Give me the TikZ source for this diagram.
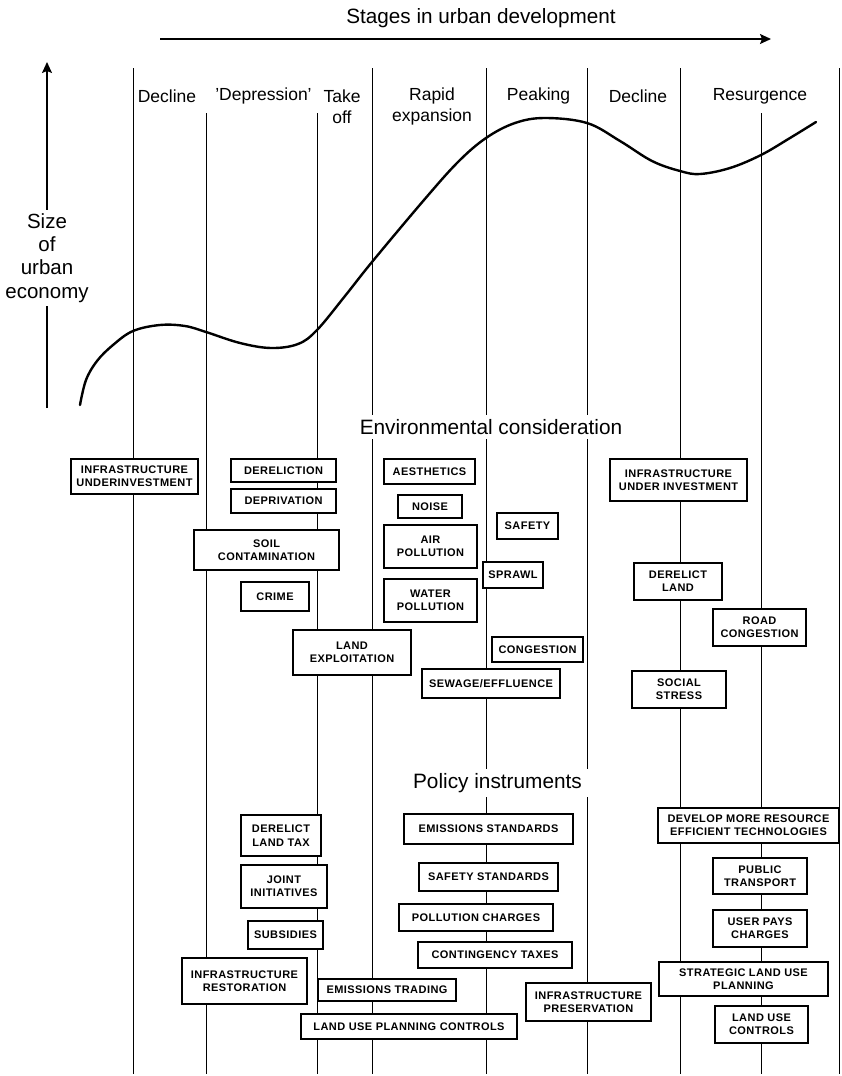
\documentclass[tikz,border=0pt]{standalone}
\usepackage{fontspec}
\setmainfont{Liberation Sans}
\newfontfamily\boxfont[LetterSpace=4]{Liberation Sans}
\usetikzlibrary{arrows.meta}
\begin{document}
\begin{tikzpicture}[x=1pt,y=-1pt,
  bx/.style={draw, fill=white, line width=1.1pt, align=center, inner sep=1pt,
    font=\boxfont\bfseries\fontsize{11}{13.3}\selectfont},
  stage/.style={font=\fontsize{17.5}{21}\selectfont, align=center, inner sep=0pt},
  head/.style={font=\fontsize{20.8}{24}\selectfont, fill=white, inner xsep=6pt, inner ysep=4pt},
  vline/.style={line width=0.8pt},
  ecurve/.style={line width=2.4pt, line cap=round, line join=round},
  axarrow/.style={line width=1.4pt, -{Stealth[length=11pt,width=10pt,inset=2pt]}}]
\useasboundingbox (0,0) rectangle (841,1076);
% title and arrow
\node[font=\fontsize{20.7}{24}\selectfont, inner sep=0pt] (title) at (481,18) {Stages in urban development};
\coordinate (ta) at (160,39);
\coordinate (tb) at (771,39);
\draw[axarrow] (ta) -- (tb);
% y axis
\coordinate (ya) at (47,408);
\coordinate (yb) at (47,62);
\draw[axarrow] (ya) -- (yb);
\node[font=\fontsize{20.5}{23.3}\selectfont, align=center, fill=white, inner xsep=0pt, inner ysep=3pt] (ylab) at (47,258) {Size\\of\\urban\\economy};
% vertical lines
\foreach \x in {133,372,486.5,587,680,839.5} \draw[vline] (\x,68) -- (\x,1074);
\foreach \x in {206.5,317,761} \draw[vline] (\x,113) -- (\x,1074);
% stage labels
\node[stage] (s1) at (167,96) {Decline};
\node[stage] (s2) at (263.5,96) {\char"27 Depression\char"27};
\node[stage] (s3) at (342,106.5) {Take\\off};
\node[stage] (s4) at (432,106.5) {Rapid\\expansion};
\node[stage] (s5) at (538.5,96) {Peaking};
\node[stage] (s6) at (638,96) {Decline};
\node[stage] (s7) at (760,96) {Resurgence};
% curve
\draw[ecurve] plot[smooth, tension=0.6] coordinates {
 (80,405) (86,380) (97,361) (113,345) (133,331) (160,325) (185,326) (206,332) (240,343)
 (271,348) (298,344) (317,330) (345,296) (372,262) (424,200) (458,162)
 (486,138) (515,123) (545,118) (587,123) (620,141) (652,161) (680,171)
 (700,174) (730,168) (761,155) (790,138) (816,122)};
% section headings
\node[head] (env) at (491,427) {Environmental consideration};
\node[head] (pol) at (497.5,783) {Policy instruments};
% environmental boxes
\node[bx, minimum width=127pt, minimum height=35pt] (infu) at (134.5,476.5) {INFRASTRUCTURE\\UNDERINVESTMENT};
\node[bx, minimum width=105pt, minimum height=23pt] (derel) at (283.5,470.5) {DERELICTION};
\node[bx, minimum width=105pt, minimum height=24pt] (depriv) at (283.5,501) {DEPRIVATION};
\node[bx, minimum width=145pt, minimum height=40pt] (soil) at (266.5,550) {SOIL\\CONTAMINATION};
\node[bx, minimum width=68pt, minimum height=29pt] (crime) at (275,596.5) {CRIME};
\node[bx, minimum width=118pt, minimum height=45pt] (landexp) at (352,652.5) {LAND\\EXPLOITATION};
\node[bx, minimum width=91pt, minimum height=25pt] (aest) at (429.5,471.5) {AESTHETICS};
\node[bx, minimum width=64pt, minimum height=23pt] (noise) at (430,506.5) {NOISE};
\node[bx, minimum width=93pt, minimum height=43pt] (air) at (430.5,546.5) {AIR\\POLLUTION};
\node[bx, minimum width=93pt, minimum height=43pt] (water) at (430.5,600.5) {WATER\\POLLUTION};
\node[bx, minimum width=61pt, minimum height=26pt] (safety) at (527.5,526) {SAFETY};
\node[bx, minimum width=60pt, minimum height=26pt] (sprawl) at (513,575) {SPRAWL};
\node[bx, minimum width=91pt, minimum height=25pt] (cong) at (537.5,649.5) {CONGESTION};
\node[bx, minimum width=138pt, minimum height=29pt] (sewage) at (491,683.5) {SEWAGE/EFFLUENCE};
\node[bx, minimum width=137pt, minimum height=42pt] (infu2) at (678.5,480) {INFRASTRUCTURE\\UNDER INVESTMENT};
\node[bx, minimum width=88pt, minimum height=37pt] (dland) at (678,581.5) {DERELICT\\LAND};
\node[bx, minimum width=93pt, minimum height=37pt] (road) at (759.5,627.5) {ROAD\\CONGESTION};
\node[bx, minimum width=94pt, minimum height=37pt] (social) at (679,689.5) {SOCIAL\\STRESS};
% policy boxes
\node[bx, minimum width=80pt, minimum height=41pt] (dlt) at (281,835.5) {DERELICT\\LAND TAX};
\node[bx, minimum width=86pt, minimum height=43pt] (joint) at (284,886.5) {JOINT\\INITIATIVES};
\node[bx, minimum width=75pt, minimum height=28pt] (subs) at (285.5,935) {SUBSIDIES};
\node[bx, minimum width=125pt, minimum height=46pt] (infrest) at (244.5,981) {INFRASTRUCTURE\\RESTORATION};
\node[bx, minimum width=138pt, minimum height=22pt] (emtr) at (387,990) {EMISSIONS TRADING};
\node[bx, minimum width=216pt, minimum height=25pt] (lupc) at (409,1026.5) {LAND USE PLANNING CONTROLS};
\node[bx, minimum width=169pt, minimum height=30pt] (emstd) at (488.5,829) {EMISSIONS STANDARDS};
\node[bx, minimum width=139pt, minimum height=28pt] (safstd) at (488.5,877) {SAFETY STANDARDS};
\node[bx, minimum width=154pt, minimum height=27pt] (pollch) at (476,917.5) {POLLUTION CHARGES};
\node[bx, minimum width=154pt, minimum height=26pt] (contax) at (495,955) {CONTINGENCY TAXES};
\node[bx, minimum width=125pt, minimum height=38pt] (infpres) at (588.5,1002) {INFRASTRUCTURE\\PRESERVATION};
\node[bx, minimum width=181pt, minimum height=35pt] (develop) at (748.5,825.5) {DEVELOP MORE RESOURCE\\EFFICIENT TECHNOLOGIES};
\node[bx, minimum width=94pt, minimum height=36pt] (public) at (760,876) {PUBLIC\\TRANSPORT};
\node[bx, minimum width=94pt, minimum height=37pt] (userpays) at (760,928.5) {USER PAYS\\CHARGES};
\node[bx, minimum width=169pt, minimum height=34pt] (strat) at (743.5,979) {STRATEGIC LAND USE\\PLANNING};
\node[bx, minimum width=93pt, minimum height=37pt] (luc) at (761.5,1024.5) {LAND USE\\CONTROLS};
\end{tikzpicture}
\end{document}
